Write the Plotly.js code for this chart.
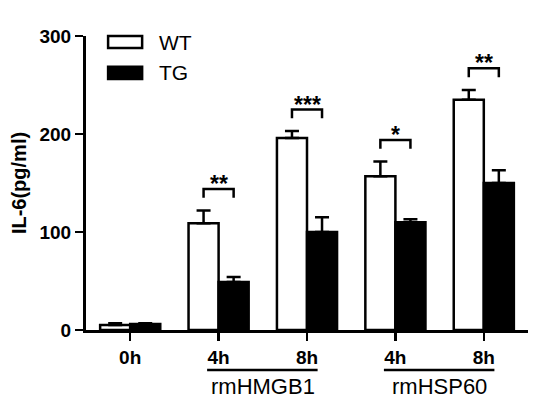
<!DOCTYPE html>
<html><head><meta charset="utf-8">
<script src="https://cdn.plot.ly/plotly-3.0.1.min.js"></script>
<style>html,body{margin:0;padding:0;background:#fff}</style>
</head><body>
<div id="chart" style="width:547px;height:399px"></div>
<script>
const timeLabels = ['0h', '4h', '8h', '4h', '8h'];
const wtValues = [5, 109, 196, 157, 235];
const wtErrors = [2, 13, 7, 15, 10];
const tgValues = [6, 49, 100, 110, 150];
const tgErrors = [1, 5, 15, 3, 13];
const significance = ['', '**', '***', '*', '**'];
const groupNames = ['rmHMGB1', 'rmHSP60'];
const groupSpans = [[1, 2], [3, 4]];
const seriesNames = ['WT', 'TG'];

const xs = timeLabels.map((_, i) => i);
const FONT = 'Liberation Sans, Arial, sans-serif';

const traces = [
  {type: 'bar', name: seriesNames[0], x: xs, y: wtValues,
   marker: {color: '#ffffff', line: {color: '#000', width: 2.5}},
   error_y: {type: 'data', array: wtErrors, arrayminus: wtErrors.map(() => 0), symmetric: false,
             color: '#000', thickness: 2.5, width: 7}},
  {type: 'bar', name: seriesNames[1], x: xs, y: tgValues,
   marker: {color: '#000000', line: {color: '#000', width: 2.5}},
   error_y: {type: 'data', array: tgErrors, arrayminus: tgErrors.map(() => 0), symmetric: false,
             color: '#000', thickness: 2.5, width: 7}}
];

const shapes = [];
const annotations = [];
const half = 0.17;
significance.forEach((s, i) => {
  if (!s) return;
  const top = Math.max(wtValues[i] + wtErrors[i], tgValues[i] + tgErrors[i]) + 22;
  shapes.push({type: 'path', xref: 'x', yref: 'y',
    path: `M${i - half},${top - 9} L${i - half},${top} L${i + half},${top} L${i + half},${top - 9}`,
    line: {color: '#000', width: 2.5}});
  annotations.push({xref: 'x', yref: 'y', x: i, y: top, text: s, showarrow: false,
    yanchor: 'bottom', yshift: -10, font: {family: FONT, size: 23, color: '#000', weight: 'bold'}});
});

groupNames.forEach((g, k) => {
  const [a, b] = groupSpans[k];
  shapes.push({type: 'line', xref: 'x', yref: 'paper', x0: a - 0.13, x1: b + 0.12,
    y0: -0.136, y1: -0.136, line: {color: '#000', width: 2.5}});
  annotations.push({xref: 'x', yref: 'paper', x: (a + b) / 2, y: -0.192, text: g, showarrow: false,
    yanchor: 'middle', font: {family: FONT, size: 22, color: '#000'}});
});

// legend
const legendRows = [{y0: 0.959, y1: 1.0, fill: '#fff'}, {y0: 0.854, y1: 0.895, fill: '#000'}];
legendRows.forEach((r, k) => {
  shapes.push({type: 'rect', xref: 'paper', yref: 'paper', x0: 0.05, x1: 0.127, y0: r.y0, y1: r.y1,
    fillcolor: r.fill, line: {color: '#000', width: 2.5}});
  annotations.push({xref: 'paper', yref: 'paper', x: 0.16, y: (r.y0 + r.y1) / 2, text: seriesNames[k],
    showarrow: false, xanchor: 'left', yanchor: 'middle',
    font: {family: FONT, size: 21, color: '#000'}});
});

const layout = {
  width: 547, height: 399,
  margin: {l: 86, r: 19, t: 36, b: 69, pad: 0},
  paper_bgcolor: '#fff', plot_bgcolor: '#fff',
  showlegend: false,
  barmode: 'group', bargap: 0.32, bargroupgap: 0,
  xaxis: {range: [-0.5, 4.5], tickvals: xs, ticktext: timeLabels, ticks: 'outside', ticklen: 8,
    tickwidth: 2.5, tickcolor: '#000', showline: true, linecolor: '#000', linewidth: 3,
    showgrid: false, zeroline: false, fixedrange: true,
    tickfont: {family: FONT, size: 19, color: '#000', weight: 'bold'}},
  yaxis: {range: [0, 300], tickvals: [0, 100, 200, 300], ticks: 'outside', ticklen: 8,
    tickwidth: 2.5, tickcolor: '#000', showline: true, linecolor: '#000', linewidth: 3,
    showgrid: false, zeroline: false, fixedrange: true,
    tickfont: {family: FONT, size: 19, color: '#000', weight: 'bold'},
    title: {text: 'IL-6(pg/ml)', standoff: 8, font: {family: FONT, size: 20, color: '#000', weight: 'bold'}}},
  shapes: shapes,
  annotations: annotations
};

Plotly.newPlot('chart', traces, layout, {displayModeBar: false, staticPlot: true});
</script>
</body></html>
